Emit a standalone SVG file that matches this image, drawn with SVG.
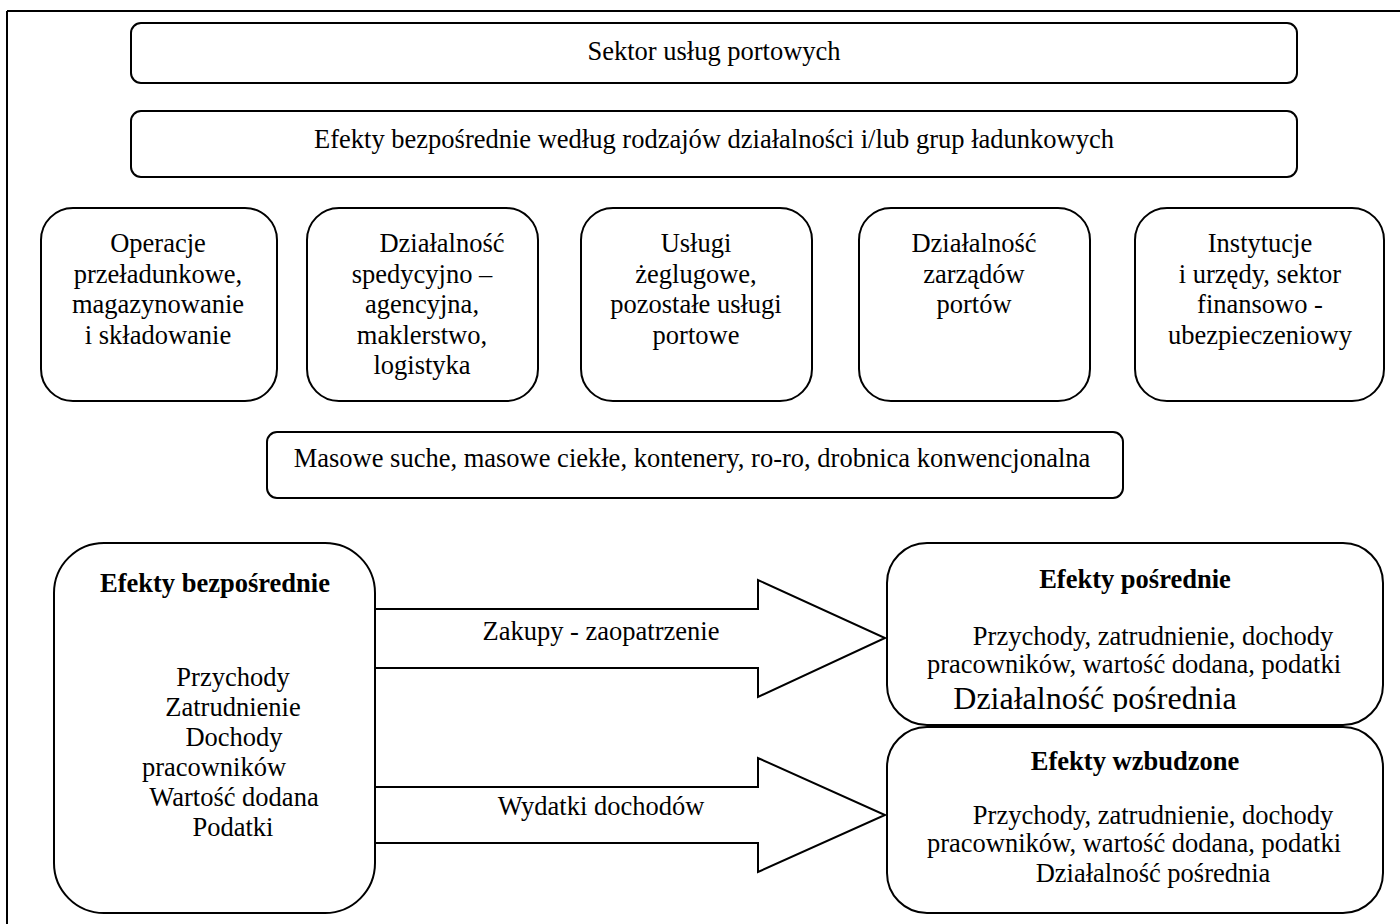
<svg xmlns="http://www.w3.org/2000/svg" width="1400" height="924" viewBox="0 0 1400 924">
<defs>
<style>
.b{fill:#fff;stroke:#000;stroke-width:2}
.t{font-family:"Liberation Serif","Times New Roman",serif;font-size:26.5px;fill:#000;text-anchor:middle}
.bd{font-weight:bold}
.big{font-size:32px}
.ar{fill:#fff;stroke:#000;stroke-width:2;stroke-linejoin:miter}
</style>
<clipPath id="clipTop"><rect x="887" y="543" width="496" height="169"/></clipPath>
</defs>
<rect x="0" y="0" width="1400" height="924" fill="#fff"/>
<g id="frame">
<line x1="7" y1="11" x2="1400" y2="11" stroke="#000" stroke-width="2"/>
<line x1="7" y1="11" x2="7" y2="924" stroke="#000" stroke-width="2"/>
</g>
<g id="sektor">
<rect class="b" x="131" y="23" width="1166" height="60" rx="10"/>
<text class="t" x="714" y="60">Sektor usług portowych</text>
</g>
<g id="efekty-wg">
<rect class="b" x="131" y="111" width="1166" height="66" rx="10"/>
<text class="t" x="714" y="148">Efekty bezpośrednie według rodzajów działalności i/lub grup ładunkowych</text>
</g>
<g id="operacje">
<rect class="b" x="41" y="208" width="236" height="193" rx="32"/>
<text class="t" x="158" y="252">Operacje</text>
<text class="t" x="158" y="283">przeładunkowe,</text>
<text class="t" x="158" y="313">magazynowanie</text>
<text class="t" x="158" y="344">i składowanie</text>
</g>
<g id="spedycja">
<rect class="b" x="307" y="208" width="231" height="193" rx="32"/>
<text class="t" x="442" y="252">Działalność</text>
<text class="t" x="422" y="283">spedycyjno –</text>
<text class="t" x="422" y="313">agencyjna,</text>
<text class="t" x="422" y="344">maklerstwo,</text>
<text class="t" x="422" y="374">logistyka</text>
</g>
<g id="uslugi">
<rect class="b" x="581" y="208" width="231" height="193" rx="32"/>
<text class="t" x="696" y="252">Usługi</text>
<text class="t" x="696" y="283">żeglugowe,</text>
<text class="t" x="696" y="313">pozostałe usługi</text>
<text class="t" x="696" y="344">portowe</text>
</g>
<g id="zarzady">
<rect class="b" x="859" y="208" width="231" height="193" rx="32"/>
<text class="t" x="974" y="252">Działalność</text>
<text class="t" x="974" y="283">zarządów</text>
<text class="t" x="974" y="313">portów</text>
</g>
<g id="instytucje">
<rect class="b" x="1135" y="208" width="249" height="193" rx="32"/>
<text class="t" x="1260" y="252">Instytucje</text>
<text class="t" x="1260" y="283">i urzędy, sektor</text>
<text class="t" x="1260" y="313">finansowo -</text>
<text class="t" x="1260" y="344">ubezpieczeniowy</text>
</g>
<g id="ladunki">
<rect class="b" x="267" y="432" width="856" height="66" rx="10"/>
<text class="t" x="692" y="467">Masowe suche, masowe ciekłe, kontenery, ro-ro, drobnica konwencjonalna</text>
</g>
<g id="connectors">
<path class="ar" d="M375,609 L758,609 L758,580 L885,638 L758,697 L758,668 L375,668"/>
<path class="ar" d="M375,787 L758,787 L758,758 L885,815 L758,872 L758,843 L375,843"/>
<text class="t" x="601" y="640">Zakupy - zaopatrzenie</text>
<text class="t" x="601" y="815">Wydatki dochodów</text>
</g>
<g id="bezposrednie">
<rect class="b" x="54" y="543" width="321" height="370" rx="50"/>
<text class="t bd" x="215" y="592">Efekty bezpośrednie</text>
<text class="t" x="233" y="686">Przychody</text>
<text class="t" x="233" y="716">Zatrudnienie</text>
<text class="t" x="234" y="746">Dochody</text>
<text class="t" x="214" y="776">pracowników</text>
<text class="t" x="234" y="806">Wartość dodana</text>
<text class="t" x="233" y="836">Podatki</text>
</g>
<g id="posrednie">
<rect class="b" x="887" y="543" width="496" height="182" rx="40"/>
<text class="t bd" x="1135" y="588">Efekty pośrednie</text>
<text class="t" x="1153" y="645">Przychody, zatrudnienie, dochody</text>
<text class="t" x="1134" y="673">pracowników, wartość dodana, podatki</text>
<text class="t big" x="1095" y="709" clip-path="url(#clipTop)">Działalność pośrednia</text>
</g>
<g id="wzbudzone">
<rect class="b" x="887" y="727" width="496" height="186" rx="40"/>
<text class="t bd" x="1135" y="770">Efekty wzbudzone</text>
<text class="t" x="1153" y="824">Przychody, zatrudnienie, dochody</text>
<text class="t" x="1134" y="852">pracowników, wartość dodana, podatki</text>
<text class="t" x="1153" y="882">Działalność pośrednia</text>
</g>
</svg>
